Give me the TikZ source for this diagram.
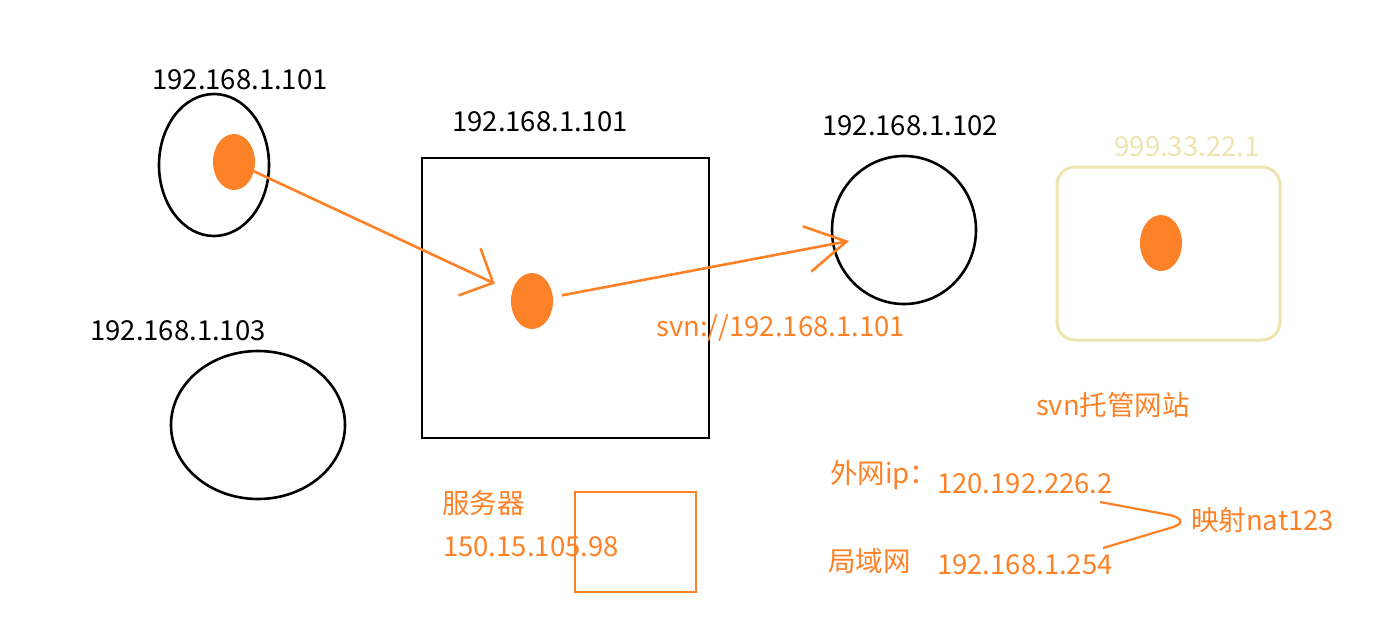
\documentclass[tikz,border=0pt]{standalone}
\usepackage{fontspec}
\setmainfont{Noto Sans CJK SC}
\usepackage{tikz}
\usetikzlibrary{shapes.geometric,arrows.meta,positioning,calc}
\definecolor{svnorange}{RGB}{253,129,39}
\definecolor{paleyellow}{RGB}{238,228,176}
\tikzset{
  lbl/.style={font=\fontsize{27.5}{32}\selectfont, inner sep=0pt},
  host/.style={draw=black, line width=2.6pt, ellipse, inner sep=0pt},
  dot/.style={fill=svnorange, ellipse, minimum width=42pt, minimum height=56pt, inner sep=0pt},
  wire/.style={draw=svnorange, line width=2.6pt}
}
\begin{document}
\begin{tikzpicture}[x=1pt, y=-1pt]
    \useasboundingbox (0,0) rectangle (1392,632);

    % Client hosts
    \node[host, minimum width=110pt, minimum height=142pt] (pcA) at (214,165) {};
    \node[lbl] (pcAip) at (240,80) {192.168.1.101};
    \node[dot] (dotA) at (234,162) {};
    \node[host, minimum width=174pt, minimum height=148pt] (pcC) at (258,425) {};
    \node[lbl] (pcCip) at (178,331) {192.168.1.103};

    % Server box
    \draw[line width=2.6pt] (422,158) rectangle (709,438);
    \node[lbl] (srvip) at (540,122) {192.168.1.101};
    \node[dot] (dotS) at (532,301) {};

    % Host B
    \node[host, minimum width=144pt, minimum height=148pt] (pcB) at (904,230) {};
    \node[lbl] (pcBip) at (910,126) {192.168.1.102};
    \coordinate (tipB) at (849,241);

    % Checkouts
    \draw[wire, -{Straight Barb[length=26pt, width=52pt]}, shorten >=19pt] (dotA) -- (dotS);
    \draw[wire, -{Straight Barb[length=40pt, width=46pt]}, shorten <=9pt] (dotS) -- (tipB);
    \node[lbl, svnorange, anchor=west] (url) at (656,328) {svn://192.168.1.101};

    % Hosted svn site
    \draw[paleyellow, line width=3pt, rounded corners=18pt] (1057,167) rectangle (1280,340);
    \node[lbl, paleyellow] (hostip) at (1187,147) {999.33.22.1};
    \node[dot] (dotH) at (1161,243) {};
    \node[lbl, svnorange] (hosted) at (1113,405) {svn托管网站};

    % Server addresses
    \node[lbl, svnorange, anchor=west] (srvname) at (442,503) {服务器};
    \node[lbl, svnorange, anchor=west] (srvwan) at (443,547) {150.15.105.98};
    \draw[svnorange, line width=2.6pt] (575,492) rectangle (696,592);

    % NAT mapping
    \node[lbl, svnorange, anchor=west] (wan) at (830,475) {外网ip：};
    \node[lbl, svnorange, anchor=west] (wanip) at (937,484) {120.192.226.2};
    \node[lbl, svnorange, anchor=west] (lan) at (828,561) {局域网};
    \node[lbl, svnorange, anchor=west] (lanip) at (937,565) {192.168.1.254};
    \node[lbl, svnorange, anchor=west] (nat) at (1191,520) {映射nat123};
    \coordinate (bt) at (1100,502);
    \coordinate (bb) at (1103,548);
    \draw[wire, line width=2.2pt] (bt) -- (1170,515) .. controls (1184,519) and (1184,524) .. (1170,528) -- (bb);
\end{tikzpicture}
\end{document}
